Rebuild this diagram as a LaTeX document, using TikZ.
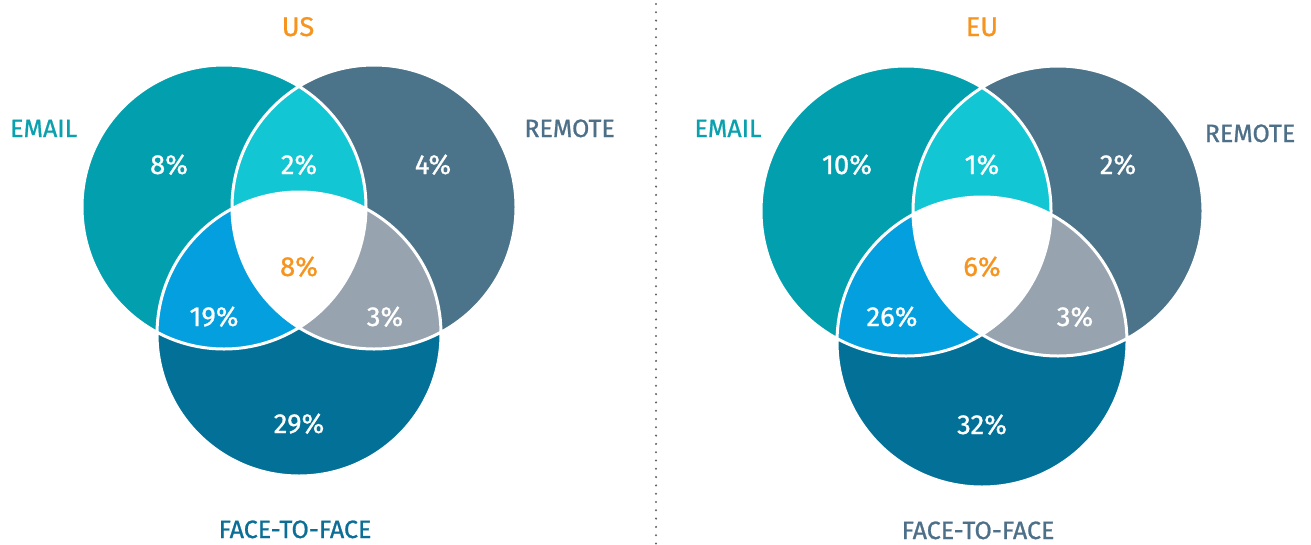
\documentclass[tikz,border=0pt]{standalone}
\usepackage{fontspec}
\setmainfont{Fira Sans}[FakeBold=0.9]
\definecolor{cemail}{HTML}{02A0AE}
\definecolor{cremote}{HTML}{4B7389}
\definecolor{cface}{HTML}{027097}
\definecolor{cer}{HTML}{13C6D3}
\definecolor{cef}{HTML}{039FDE}
\definecolor{crf}{HTML}{97A3AE}
\definecolor{corange}{HTML}{F7941D}
\definecolor{lemail}{HTML}{0AA0AE}
\definecolor{lremote}{HTML}{4D7088}
\definecolor{lface}{HTML}{0A6E96}
\definecolor{sepgray}{HTML}{666666}

% three-set Venn: email centre, remote centre, face centre, radius
\newcommand\drawvenn[7]{%
  \fill[cemail] (#1,#2) circle (#7);
  \fill[cremote] (#3,#4) circle (#7);
  \fill[cface] (#5,#6) circle (#7);
  \begin{scope}
    \clip (#1,#2) circle (#7);
    \fill[cer] (#3,#4) circle (#7);
    \fill[cef] (#5,#6) circle (#7);
  \end{scope}
  \begin{scope}
    \clip (#3,#4) circle (#7);
    \fill[crf] (#5,#6) circle (#7);
    \clip (#1,#2) circle (#7);
    \fill[white] (#5,#6) circle (#7);
  \end{scope}
  \draw[outline] (#1,#2) circle (#7) (#3,#4) circle (#7) (#5,#6) circle (#7);
}

\begin{document}
\begin{tikzpicture}[x=1pt,y=-1pt,
  outline/.style={draw=white,line width=3pt},
  pct/.style={text=white,font=\fontsize{27.5}{27.5}\selectfont,inner sep=0pt,anchor=base},
  midpct/.style={pct,text=corange},
  setlabel/.style={font=\fontsize{25}{25}\selectfont,inner sep=0pt},
  title/.style={text=corange,font=\fontsize{27}{27}\selectfont,inner sep=0pt,anchor=base},
  separator/.style={draw=sepgray,line width=2.3pt,line cap=round,dash pattern=on 0pt off 8.3pt}]
\useasboundingbox (0,0) rectangle (1311,544);

% ---------- US ----------
\drawvenn{224}{207}{374}{207}{299}{334}{142}
\node[title] (usTitle) at (298,36) {US};
\node[setlabel,text=lemail,anchor=base west] (usEmail) at (10,137) {EMAIL};
\node[setlabel,text=lremote,anchor=base east] (usRemote) at (615,137) {REMOTE};
\node[setlabel,text=lface,anchor=base] (usFace) at (295,538) {FACE-TO-FACE};
\node[pct] (usE) at (169,174) {8\%};
\node[pct] (usER) at (299,174) {2\%};
\node[pct] (usR) at (433,174) {4\%};
\node[midpct] (usAll) at (299,276) {8\%};
\node[pct] (usEF) at (214,326) {19\%};
\node[pct] (usRF) at (385,326) {3\%};
\node[pct] (usF) at (299,433) {29\%};

% ---------- separator ----------
\coordinate (sepTop) at (656,4);
\coordinate (sepBot) at (656,544);
\draw[separator] (sepTop) -- (sepBot);

% ---------- EU ----------
\drawvenn{906}{211}{1058}{211}{982}{342}{145}
\node[title] (euTitle) at (982,36) {EU};
\node[setlabel,text=lemail,anchor=base] (euEmail) at (728,137) {EMAIL};
\node[setlabel,text=lremote,anchor=base] (euRemote) at (1250,142) {REMOTE};
\node[setlabel,text=lremote,anchor=base] (euFace) at (978,539) {FACE-TO-FACE};
\node[pct] (euE) at (847,174) {10\%};
\node[pct] (euER) at (982,174) {1\%};
\node[pct] (euR) at (1118,174) {2\%};
\node[midpct] (euAll) at (982,276) {6\%};
\node[pct] (euEF) at (892,326) {26\%};
\node[pct] (euRF) at (1075,326) {3\%};
\node[pct] (euF) at (982,434) {32\%};
\end{tikzpicture}
\end{document}
